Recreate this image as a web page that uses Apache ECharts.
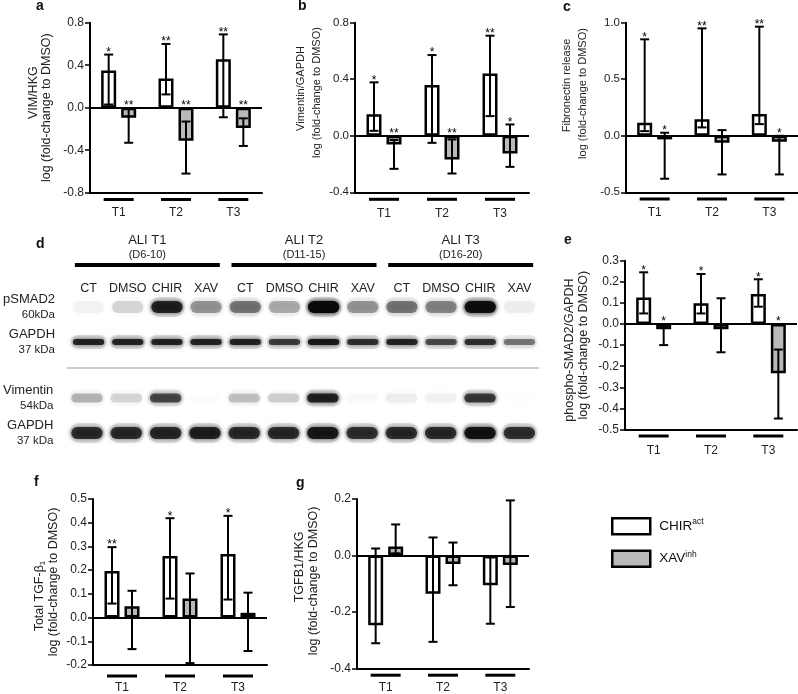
<!DOCTYPE html>
<html><head><meta charset="utf-8">
<script src="https://cdn.jsdelivr.net/npm/echarts@6/dist/echarts.min.js"></script>
<style>html,body{margin:0;padding:0;background:#fff}#c{width:798px;height:694px}</style>
</head><body><div id="c"></div>
<script>
// ---------------- DATA ----------------
const timepoints = ['T1', 'T2', 'T3'];
const seriesNames = ['CHIR', 'XAV'];

// a  VIM/HKG
const vimHkgChir   = [0.35, 0.275, 0.455];
const vimHkgChirLo = [0.03, 0.125, -0.09];
const vimHkgChirHi = [0.50, 0.60, 0.69];
const vimHkgChirSig = ['*', '**', '**'];
const vimHkgXav    = [-0.095, -0.31, -0.19];
const vimHkgXavLo  = [-0.33, -0.62, -0.36];
const vimHkgXavHi  = [-0.01, -0.13, -0.10];
const vimHkgXavSig = ['**', '**', '**'];

// b  Vimentin/GAPDH
const vimGapdhChir   = [0.153, 0.359, 0.441];
const vimGapdhChirLo = [0.035, -0.05, 0.139];
const vimGapdhChirHi = [0.378, 0.571, 0.708];
const vimGapdhChirSig = ['*', '*', '**'];
const vimGapdhXav    = [-0.061, -0.168, -0.125];
const vimGapdhXavLo  = [-0.234, -0.267, -0.22];
const vimGapdhXavHi  = [-0.03, -0.026, 0.08];
const vimGapdhXavSig = ['**', '**', '*'];

// c  Fibronectin release
const fnChir   = [0.115, 0.147, 0.192];
const fnChirLo = [0.041, 0.074, 0.103];
const fnChirHi = [0.853, 0.95, 0.965];
const fnChirSig = ['*', '**', '**'];
const fnXav    = [-0.032, -0.062, -0.053];
const fnXavLo  = [-0.38, -0.342, -0.342];
const fnXavHi  = [0.027, 0.05, 0.0];
const fnXavSig = ['*', '', '*'];

// e  phospho-SMAD2/GAPDH
const psmadChir   = [0.126, 0.098, 0.142];
const psmadChirLo = [0.05, 0.05, 0.082];
const psmadChirHi = [0.245, 0.237, 0.212];
const psmadChirSig = ['*', '*', '*'];
const psmadXav    = [-0.025, -0.025, -0.233];
const psmadXavLo  = [-0.10, -0.134, -0.448];
const psmadXavHi  = [-0.008, 0.122, -0.121];
const psmadXavSig = ['*', '', '*'];

// f  Total TGF-beta1
const tgfChir   = [0.196, 0.26, 0.268];
const tgfChirLo = [0.059, 0.08, 0.076];
const tgfChirHi = [0.297, 0.419, 0.429];
const tgfChirSig = ['**', '*', '*'];
const tgfXav    = [0.048, 0.08, 0.02];
const tgfXavLo  = [-0.133, -0.192, -0.141];
const tgfXavHi  = [0.113, 0.186, 0.105];
const tgfXavSig = ['', '', ''];

// g  TGFB1/HKG
const tgfb1Chir   = [-0.246, -0.135, -0.105];
const tgfb1ChirLo = [-0.31, -0.305, -0.241];
const tgfb1ChirHi = [0.025, 0.064, -0.007];
const tgfb1ChirSig = ['', '', ''];
const tgfb1Xav    = [0.032, -0.03, -0.033];
const tgfb1XavLo  = [0.008, -0.105, -0.182];
const tgfb1XavHi  = [0.11, 0.046, 0.195];
const tgfb1XavSig = ['', '', ''];

// d  western blot (band intensity 0..1), lanes: T1 CT,DMSO,CHIR,XAV | T2 ... | T3 ...
const blotGroups = ['ALI T1', 'ALI T2', 'ALI T3'];
const blotGroupDays = ['(D6-10)', '(D11-15)', '(D16-20)'];
const blotLanes = ['CT', 'DMSO', 'CHIR', 'XAV'];
const blotTopRows = ['pSMAD2', 'GAPDH'];
const blotTopKda = ['60kDa', '37 kDa'];
const blotBottomRows = ['Vimentin', 'GAPDH'];
const blotBottomKda = ['54kDa', '37 kDa'];
const pSMAD2Band   = [0.08, 0.22, 0.85, 0.45, 0.55, 0.38, 1.0, 0.45, 0.55, 0.50, 0.95, 0.12];
const gapdhTopBand = [0.85, 0.85, 0.85, 0.85, 0.85, 0.75, 0.90, 0.80, 0.85, 0.70, 0.80, 0.55];
const vimentinBand = [0.35, 0.22, 0.70, 0.03, 0.30, 0.25, 0.85, 0.05, 0.12, 0.10, 0.75, 0.02];
const gapdhBotBand = [0.80, 0.80, 0.82, 0.85, 0.80, 0.80, 0.88, 0.78, 0.80, 0.80, 0.92, 0.78];

// ---------------- STYLE / LAYOUT ----------------
const FONT = '"Liberation Sans", Arial, Helvetica, sans-serif';
const BAR_W = 15, BAR_GAP = 5, OFF = (BAR_W + BAR_GAP) / 2, CAP = 4.5;
const GREY = '#b9b9b9';

const panels = [
  { grid: {left: 90, top: 22.7, width: 172, height: 170}, y: [-0.8, 0.8, 0.4],
    chir: [vimHkgChir, vimHkgChirLo, vimHkgChirHi, vimHkgChirSig],
    xav: [vimHkgXav, vimHkgXavLo, vimHkgXavHi, vimHkgXavSig],
    t1: 'VIM/HKG', sub: '', fs: 12.5, lh: 12.5, gap: 37.5, shift: 0, l1shift: 15, tickFs: 12, starFs: 12, lm: 5.3, lLH: 24 },
  { grid: {left: 355, top: 22.7, width: 174, height: 169.6}, y: [-0.4, 0.8, 0.4],
    chir: [vimGapdhChir, vimGapdhChirLo, vimGapdhChirHi, vimGapdhChirSig],
    xav: [vimGapdhXav, vimGapdhXavLo, vimGapdhXavHi, vimGapdhXavSig],
    t1: 'Vimentin/GAPDH', sub: '', fs: 11, lh: 16, gap: 21, shift: 15, l1shift: 4, tickFs: 11.5, starFs: 12, lm: 5.5, lLH: 25 },
  { grid: {left: 626, top: 22.7, width: 172, height: 169.6}, y: [-0.5, 1.0, 0.5],
    chir: [fnChir, fnChirLo, fnChirHi, fnChirSig],
    xav: [fnXav, fnXavLo, fnXavHi, fnXavSig],
    t1: 'Fibronectin release', sub: '', fs: 11, lh: 16, gap: 35, shift: 14, l1shift: 8, tickFs: 11.5, starFs: 12, lm: 5.2, lLH: 25 },
  { grid: {left: 625, top: 260.7, width: 172, height: 168.8}, y: [-0.5, 0.3, 0.1],
    chir: [psmadChir, psmadChirLo, psmadChirHi, psmadChirSig],
    xav: [psmadXav, psmadXavLo, psmadXavHi, psmadXavSig],
    t1: 'phospho-SMAD2/GAPDH', sub: '', fs: 12.5, lh: 13.5, gap: 35, shift: 0, l1shift: -5, tickFs: 12, starFs: 12, lm: 5, lLH: 26 },
  { grid: {left: 93, top: 499, width: 174, height: 166}, y: [-0.2, 0.5, 0.1],
    chir: [tgfChir, tgfChirLo, tgfChirHi, tgfChirSig],
    xav: [tgfXav, tgfXavLo, tgfXavHi, tgfXavSig],
    t1: 'Total TGF-β', sub: '1', fs: 12.5, lh: 14, gap: 32.5, shift: 0, l1shift: -14, tickFs: 12, starFs: 12, lm: 9.5, lLH: 21 },
  { grid: {left: 357, top: 499, width: 172, height: 170}, y: [-0.4, 0.2, 0.2],
    chir: [tgfb1Chir, tgfb1ChirLo, tgfb1ChirHi, tgfb1ChirSig],
    xav: [tgfb1Xav, tgfb1XavLo, tgfb1XavHi, tgfb1XavSig],
    t1: 'TGFB1/HKG', sub: '', fs: 12.5, lh: 14.3, gap: 36.5, shift: 3, l1shift: 14, tickFs: 12, starFs: 12, lm: 5, lLH: 22.6 }
];

const grids = [], xAxes = [], yAxes = [], series = [];

function fmtTick(v) { return Math.abs(v) < 1e-9 ? '0.0' : v.toFixed(1); }

function errorSeries(gi, arr, side, starFs) {
  const [mean, lo, hi, sig] = arr;
  return {
    type: 'custom', xAxisIndex: gi, yAxisIndex: gi, z: 10, silent: true,
    data: mean.map((m, i) => [i, m, lo[i], hi[i]]),
    renderItem: (params, api) => {
      const i = api.value(0);
      const base = api.coord([i, 0]);
      const x = base[0] + side * OFF;
      const yl = api.coord([i, api.value(2)])[1];
      const yh = api.coord([i, api.value(3)])[1];
      const top = api.coord([i, Math.max(0, api.value(1), api.value(3))])[1];
      const ls = {stroke: '#000', lineWidth: 2};
      const ch = [
        {type: 'line', shape: {x1: x, y1: yl, x2: x, y2: yh}, style: ls},
        {type: 'line', shape: {x1: x - CAP, y1: yl, x2: x + CAP, y2: yl}, style: ls},
        {type: 'line', shape: {x1: x - CAP, y1: yh, x2: x + CAP, y2: yh}, style: ls}
      ];
      if (sig[i]) ch.push({type: 'text', style: {text: sig[i], x: x, y: top - 2, align: 'center', verticalAlign: 'middle', font: starFs + 'px ' + FONT, fill: '#000'}});
      return {type: 'group', children: ch};
    }
  };
}

panels.forEach((p, gi) => {
  grids.push(p.grid);
  xAxes.push({
    gridIndex: gi, type: 'category', data: timepoints,
    axisLine: {show: true, onZero: false, lineStyle: {color: '#000', width: 2}},
    axisTick: {show: false},
    axisLabel: {
      interval: 0, margin: p.lm,
      formatter: v => '{bar|}\n{t|' + v + '}',
      rich: {
        bar: {width: 30, height: 3, lineHeight: 3, backgroundColor: '#000'},
        t: {fontSize: 12, lineHeight: p.lLH, color: '#222', fontFamily: FONT}
      }
    }
  });
  const sp = Math.abs(2 * p.l1shift);
  const l1 = p.l1shift > 0
    ? '{sp|}{l1|' + p.t1 + '}' + (p.sub ? '{sub|' + p.sub + '}' : '')
    : '{l1|' + p.t1 + '}' + (p.sub ? '{sub|' + p.sub + '}' : '') + (p.l1shift < 0 ? '{sp|}' : '');
  yAxes.push({
    gridIndex: gi, type: 'value', min: p.y[0], max: p.y[1], interval: p.y[2],
    axisLine: {show: true, lineStyle: {color: '#000', width: 2}},
    axisTick: {show: true, length: 5, lineStyle: {color: '#000', width: 1.5}},
    axisLabel: {fontSize: p.tickFs, color: '#222', margin: 6, fontFamily: FONT, formatter: fmtTick},
    splitLine: {show: false},
    name: l1 + '\n{l2|log (fold-change to DMSO)}',
    nameLocation: 'middle', nameRotate: 90, nameGap: p.gap,
    nameTextStyle: {
      color: '#222', fontFamily: FONT, fontSize: p.fs, lineHeight: p.lh,
      padding: p.shift >= 0 ? [0, 0, 0, 2 * p.shift] : [0, -2 * p.shift, 0, 0],
      rich: {
        sp: {width: sp, height: 1},
        l1: {fontSize: p.fs, lineHeight: p.lh, color: '#222', fontFamily: FONT},
        sub: {fontSize: p.fs * 0.65, lineHeight: p.lh, verticalAlign: 'bottom', color: '#222', fontFamily: FONT, padding: [4, 0, 0, 0]},
        l2: {fontSize: p.fs, lineHeight: p.lh, color: '#222', fontFamily: FONT}
      }
    }
  });
  series.push({
    name: 'CHIR', type: 'bar', xAxisIndex: gi, yAxisIndex: gi, data: p.chir[0],
    barWidth: BAR_W, barGap: (BAR_GAP / BAR_W * 100) + '%',
    itemStyle: {color: '#fff', borderColor: '#000', borderWidth: 2.5},
    markLine: {silent: true, symbol: ['none', 'none'], label: {show: false}, animation: false,
      lineStyle: {color: '#000', width: 2, type: 'solid'}, data: [{yAxis: 0}]}
  });
  series.push({
    name: 'XAV', type: 'bar', xAxisIndex: gi, yAxisIndex: gi, data: p.xav[0],
    barWidth: BAR_W, barGap: (BAR_GAP / BAR_W * 100) + '%',
    itemStyle: {color: GREY, borderColor: '#000', borderWidth: 2.5}
  });
  series.push(errorSeries(gi, p.chir, -1, p.starFs));
  series.push(errorSeries(gi, p.xav, 1, p.starFs));
});

// ---- blot (panel d) ----
const laneIds = [];
blotGroups.forEach((g, gi) => blotLanes.forEach((l, li) => laneIds.push(gi * 4 + li)));
const BLOT_TOP = 6, BLOT_BOT = 7;
grids.push({left: 67, top: 289.5, width: 472, height: 70});
grids.push({left: 67, top: 380.5, width: 472, height: 70});

// xAxis 6: top lanes, xAxis 7: top groups, xAxis 8: bottom lanes (hidden)
xAxes.push({
  gridIndex: BLOT_TOP, type: 'category', data: laneIds, position: 'top',
  axisLine: {show: false}, axisTick: {show: false},
  axisLabel: {interval: 0, margin: -6, fontSize: 12.5, color: '#222', fontFamily: FONT,
    formatter: (v, i) => blotLanes[i % 4]}
});
xAxes.push({
  gridIndex: BLOT_TOP, type: 'category', data: blotGroups, position: 'top',
  axisLine: {show: false}, axisTick: {show: false},
  axisLabel: {interval: 0, margin: 22.5,
    formatter: (v, i) => '{t|' + v + '}\n{d|' + blotGroupDays[i] + '}\n{bar|}',
    rich: {
      t: {fontSize: 13, lineHeight: 14, color: '#222', fontFamily: FONT},
      d: {fontSize: 11, lineHeight: 16, color: '#222', fontFamily: FONT},
      bar: {width: 145, height: 4, lineHeight: 4, backgroundColor: '#000'}
    }}
});
xAxes.push({gridIndex: BLOT_BOT, type: 'category', data: laneIds, show: false});

function rowAxis(gi, rows, kda) {
  return {
    gridIndex: gi, type: 'category', data: rows.map((r, i) => i), inverse: true,
    axisLine: {show: false}, axisTick: {show: false},
    axisLabel: {margin: 14, align: 'right',
      formatter: (v, i) => '{n|' + rows[i] + '}\n{k|' + kda[i] + '}',
      rich: {
        n: {fontSize: 13, lineHeight: 15, color: '#222', fontFamily: FONT, align: 'right'},
        k: {fontSize: 11.5, lineHeight: 15, color: '#222', fontFamily: FONT, align: 'right'}
      }}
  };
}
yAxes.push(rowAxis(BLOT_TOP, blotTopRows, blotTopKda));
yAxes.push(rowAxis(BLOT_BOT, blotBottomRows, blotBottomKda));

const bandHeights = {top: [12, 6], bot: [9, 12]};
function blotSeries(xi, yi, rowsData, heights) {
  const data = [];
  rowsData.forEach((arr, r) => arr.forEach((v, lane) => data.push([lane, r, v])));
  return {
    type: 'custom', xAxisIndex: xi, yAxisIndex: yi, silent: true, z: 3,
    data: data,
    renderItem: (params, api) => {
      const lane = api.value(0), row = api.value(1), a0 = api.value(2);
      const a = Math.pow(a0, 1.3);
      const c = api.coord([lane, row]);
      const lw = api.size([1, 0])[0];
      const h = heights[row];
      const w = lw * 0.8;
      return {type: 'group', children: [
        {type: 'rect', shape: {x: c[0] - w / 2 - 2, y: c[1] - h / 2 - 4, width: w + 4, height: h + 8, r: (h + 8) / 2},
          style: {fill: 'rgba(40,40,40,' + (a * 0.16) + ')', shadowBlur: 8, shadowColor: 'rgba(40,40,40,' + (a * 0.22) + ')'}},
        {type: 'rect', shape: {x: c[0] - w / 2, y: c[1] - h / 2, width: w, height: h, r: h / 2},
          style: {fill: 'rgba(10,10,10,' + a + ')', shadowBlur: 5, shadowColor: 'rgba(10,10,10,' + a + ')'}}
      ]};
    }
  };
}
series.push(blotSeries(6, BLOT_TOP, [pSMAD2Band, gapdhTopBand], bandHeights.top));
series.push(blotSeries(8, BLOT_BOT, [vimentinBand, gapdhBotBand], bandHeights.bot));

// ---- panel letters & separator ----
const letters = [['a', 40, 7], ['b', 302, 7], ['c', 567, 8], ['d', 40, 245], ['e', 568, 241], ['f', 38, 483], ['g', 300, 484]];
const graphic = letters.map(([t, x, y]) => ({type: 'text', left: x - 4, top: y - 8, style: {text: t, font: 'bold 14px ' + FONT, fill: '#111'}}));
graphic.push({type: 'line', shape: {x1: 67, y1: 368, x2: 539, y2: 368}, style: {stroke: '#999', lineWidth: 1.2}});

const chart = echarts.init(document.getElementById('c'), null, {renderer: 'canvas'});
chart.setOption({
  animation: false,
  backgroundColor: '#fff',
  textStyle: {fontFamily: FONT},
  grid: grids,
  xAxis: xAxes,
  yAxis: yAxes,
  series: series,
  graphic: graphic,
  legend: {
    left: 606, top: 512, orient: 'vertical', itemWidth: 38, itemHeight: 16, itemGap: 14, icon: 'rect',
    selectedMode: false,
    data: [
      {name: 'CHIR', itemStyle: {color: '#fff', borderColor: '#000', borderWidth: 2.5}},
      {name: 'XAV', itemStyle: {color: GREY, borderColor: '#000', borderWidth: 2.5}}
    ],
    formatter: n => n === 'CHIR' ? '{m|CHIR}{s|act}' : '{m|XAV}{s|inh}',
    textStyle: {rich: {
      m: {fontSize: 13.5, color: '#111', fontFamily: FONT, padding: [0, 0, 0, 4], lineHeight: 18},
      s: {fontSize: 8.5, color: '#111', fontFamily: FONT, verticalAlign: 'top', lineHeight: 18, padding: [0, 0, 8, 0]}
    }}
  }
});
</script></body></html>
